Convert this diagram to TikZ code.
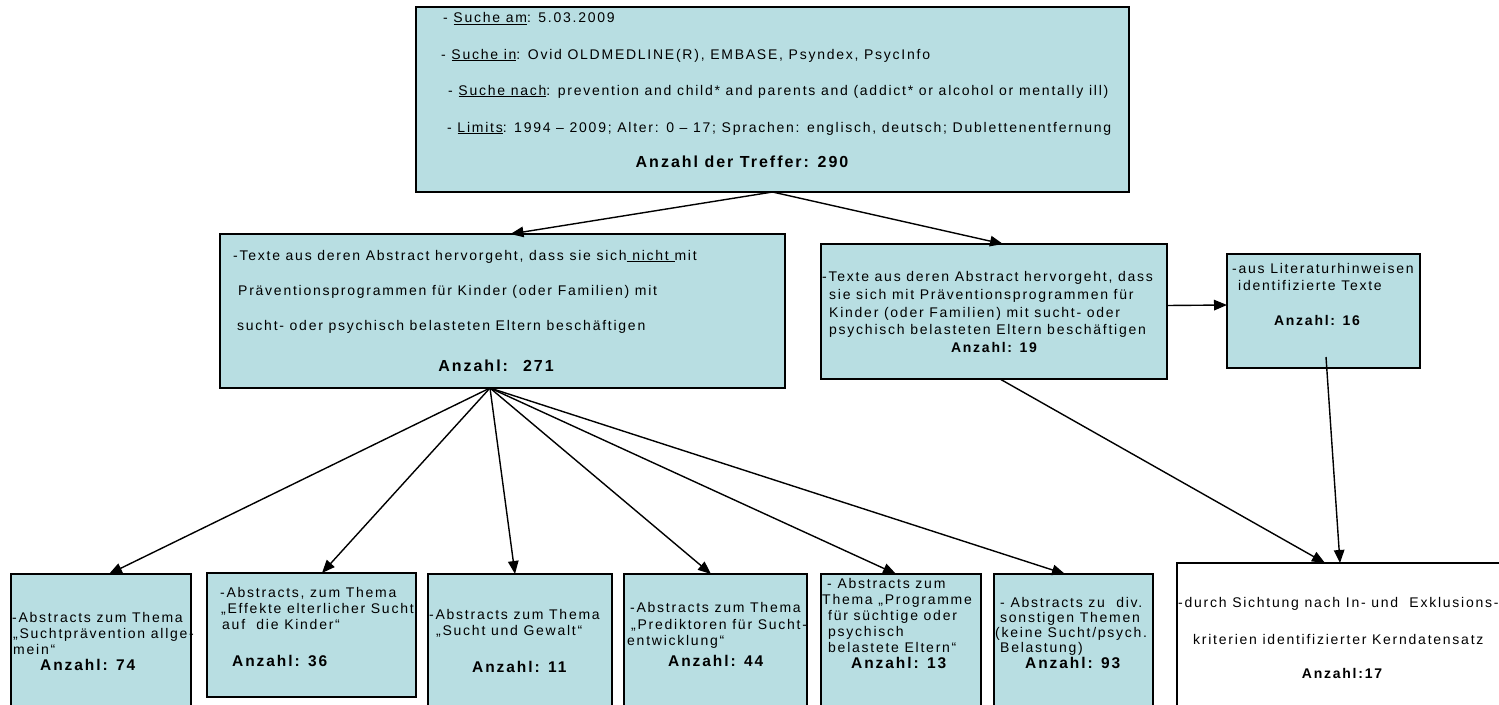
\documentclass[tikz,border=0pt]{standalone}
\usepackage{fontspec}
\setmainfont{Liberation Sans}[LetterSpace=12.5]
\usetikzlibrary{calc,arrows.meta}
\definecolor{boxfill}{RGB}{184,222,226}
\tikzset{
  box/.style={draw=black, line width=1.4pt, fill=boxfill, anchor=north west, inner sep=0pt, outer sep=0pt},
  wbox/.style={box, fill=white},
  tl/.style={inner sep=0pt, anchor=base west, font=\fontsize{14}{16}\selectfont},
  tb/.style={inner sep=0pt, anchor=base, font=\fontsize{14}{16}\selectfont\bfseries},
  tbbig/.style={tb, font=\fontsize{16}{18}\selectfont\bfseries},
  tbl/.style={tb, anchor=base west, font=\fontsize{15.5}{18}\selectfont\bfseries},
  arr/.style={draw=black, line width=1.4pt, -{Triangle[length=13pt,width=10.5pt]}},
}
\begin{document}
\begin{tikzpicture}[x=1pt,y=-1pt]
\useasboundingbox (0,0) rectangle (1499,704);
\clip (0,0) rectangle (1499,704);
% boxes
\node[box, minimum width=713pt, minimum height=185pt] (top) at (416,7) {};
\node[box, minimum width=565pt, minimum height=154pt] (ml) at (220,234) {};
\node[box, minimum width=346pt, minimum height=135pt] (mr) at (821,244) {};
\node[box, minimum width=193pt, minimum height=114pt] (rs) at (1227,254) {};
\node[box, minimum width=180pt, minimum height=150pt] (b1) at (11,574) {};
\node[box, minimum width=209pt, minimum height=124pt] (b2) at (207,573) {};
\node[box, minimum width=184pt, minimum height=150pt] (b3) at (428,574) {};
\node[box, minimum width=183pt, minimum height=150pt] (b4) at (624,574) {};
\node[box, minimum width=160pt, minimum height=150pt] (b5) at (821,574) {};
\node[box, minimum width=159pt, minimum height=150pt] (b6) at (994,574) {};
\node[wbox, minimum width=340pt, minimum height=160pt] (b7) at (1177,563) {};
% top box text
\node[tl] (t1) at (443,23) {- \underline{Suche am}: 5.03.2009};
\node[tl] (t2) at (441,59) {- \underline{Suche in}: Ovid OLDMEDLINE(R), EMBASE, Psyndex, PsycInfo};
\node[tl] (t3) at (448,95) {- \underline{Suche nach}: prevention and child* and parents and (addict* or alcohol or mentally ill)};
\node[tl] (t4) at (447,132) {- \underline{Limits}: 1994 – 2009; Alter: 0 – 17; Sprachen: englisch, deutsch; Dublettenentfernung};
\node[tbbig] (t5) at (742,167) {Anzahl der Treffer: 290};
% middle left text
\node[tl] (m1) at (233,260) {-Texte aus deren Abstract hervorgeht, dass sie sich\underline{\ nicht\ }mit};
\node[tl] (m2) at (238,295) {Präventionsprogrammen für Kinder (oder Familien) mit};
\node[tl] (m3) at (237,330) {sucht- oder psychisch belasteten Eltern beschäftigen};
\node[tbbig] (m4) at (496,371) {Anzahl: \ 271};
% middle right text
\node[tl] (r1) at (822,281) {-Texte aus deren Abstract hervorgeht, dass};
\node[tl] (r2) at (829,299) {sie sich mit Präventionsprogrammen für};
\node[tl] (r3) at (829,317) {Kinder (oder Familien) mit sucht- oder};
\node[tl] (r4) at (829,334) {psychisch belasteten Eltern beschäftigen};
\node[tb] (r5) at (994,352) {Anzahl: 19};
% right small text
\node[tl] (s1) at (1232,273) {-aus Literaturhinweisen};
\node[tl] (s2) at (1238,290) {identifizierte Texte};
\node[tb] (s3) at (1317,325) {Anzahl: 16};
% bottom 1
\node[tl] (a1) at (12,622) {-Abstracts zum Thema};
\node[tl] (a2) at (13,638) {„Suchtprävention allge-};
\node[tl] (a3) at (13,654) {mein“};
\node[tbl] (a4) at (40,670) {Anzahl: 74};
% bottom 2
\node[tl] (c1) at (220,597) {-Abstracts, zum Thema};
\node[tl] (c2) at (221,613) {„Effekte elterlicher Sucht};
\node[tl] (c3) at (222,629) {auf \ die Kinder“};
\node[tbl] (c4) at (232,666) {Anzahl: 36};
% bottom 3
\node[tl] (d1) at (429,619) {-Abstracts zum Thema};
\node[tl] (d2) at (436,635) {„Sucht und Gewalt“};
\node[tbl] (d3) at (472,672) {Anzahl: 11};
% bottom 4
\node[tl] (e1) at (630,612) {-Abstracts zum Thema};
\node[tl] (e2) at (631,629) {„Prediktoren für Sucht-};
\node[tl] (e3) at (627,645) {entwicklung“};
\node[tbl] (e4) at (668,666) {Anzahl: 44};
% bottom 5
\node[tl] (f1) at (827,588) {- Abstracts zum};
\node[tl] (f2) at (822,604) {Thema „Programme};
\node[tl] (f3) at (828,620) {für süchtige oder};
\node[tl] (f4) at (828,636) {psychisch};
\node[tl] (f5) at (828,652) {belastete Eltern“};
\node[tbl] (f6) at (851,668) {Anzahl: 13};
% bottom 6
\node[tl] (g1) at (1000,607) {- Abstracts zu \ div.};
\node[tl] (g2) at (1000,622) {sonstigen Themen};
\node[tl] (g3) at (995,637) {(keine Sucht/psych.};
\node[tl] (g4) at (1000,652) {Belastung)};
\node[tbl] (g5) at (1025,668) {Anzahl: 93};
% bottom 7
\node[tl] (h1) at (1178,607) {-durch Sichtung nach In- und \ Exklusions-};
\node[tl] (h2) at (1193,644) {kriterien identifizierter Kerndatensatz};
\node[tb] (h3) at (1342,678) {Anzahl:17};
% connectors
\draw[arr] (top.south) -- ($(ml.north)+(8,0)$);
\draw[arr] (top.south) -- ($(mr.north)+(9,0)$);
\draw[arr] ($(mr.east)+(0,-6)$) -- ($(rs.west)+(0,-6)$);
\draw[arr] ($(ml.south)+(-12.5,0)$) -- ($(b1.north)+(8,0)$);
\draw[arr] ($(ml.south)+(-12.5,0)$) -- ($(b2.north)+(10.5,0)$);
\draw[arr] ($(ml.south)+(-12.5,0)$) -- ($(b3.north)+(-5,0)$);
\draw[arr] ($(ml.south)+(-12.5,0)$) -- ($(b4.north)+(-4.5,0)$);
\draw[arr] ($(ml.south)+(-12.5,0)$) -- ($(b5.north)+(-5,0)$);
\draw[arr] ($(ml.south)+(-12.5,0)$) -- ($(b6.north)+(-8.5,0)$);
\draw[arr] ($(mr.south)+(6,0)$) -- ($(b7.north)+(-22,0)$);
\draw[arr] ($(rs.south)+(2.5,-11)$) -- ($(b7.north)+(-7,0)$);
\end{tikzpicture}
\end{document}
